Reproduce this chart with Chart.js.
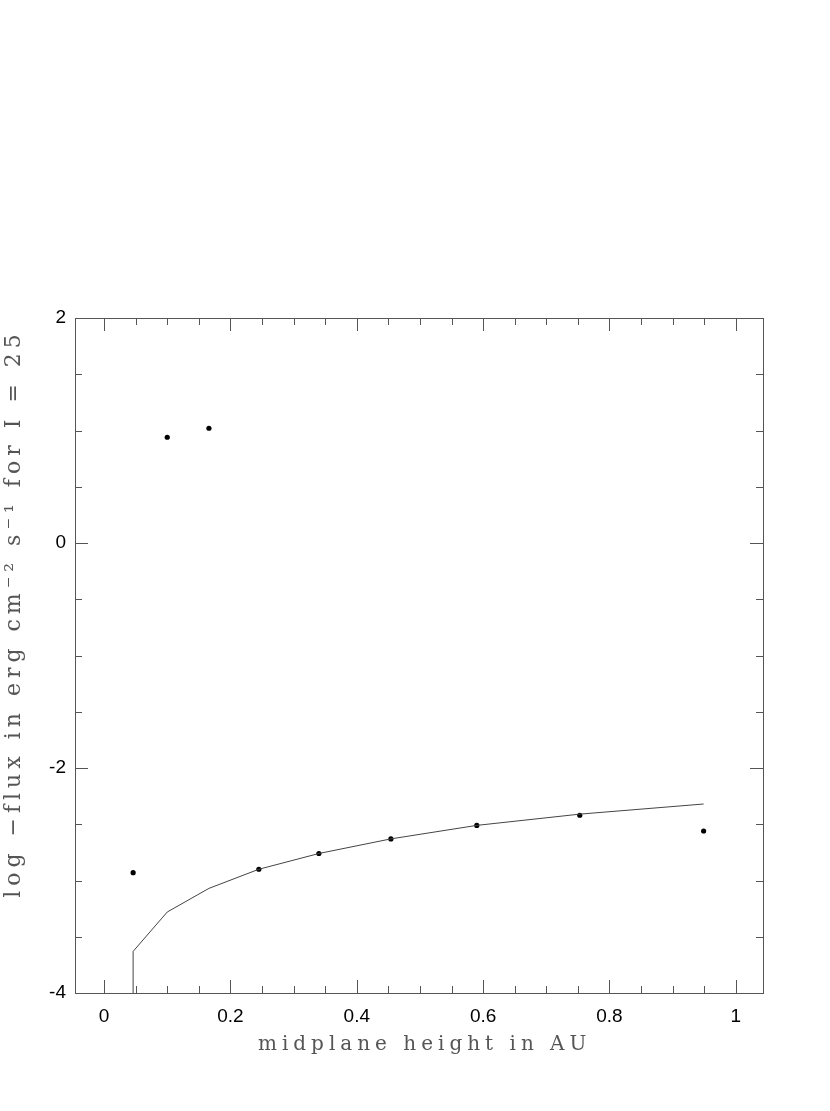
<!DOCTYPE html>
<html>
<head>
<meta charset="utf-8">
<script src="https://cdn.jsdelivr.net/npm/chart.js@4.4.0/dist/chart.umd.min.js"></script>
<style>
  html, body { margin: 0; padding: 0; background: #fff; }
  #wrap { width: 830px; height: 1111px; position: relative; }
</style>
</head>
<body>
<div id="wrap"><canvas id="myChart"></canvas></div>
<script>
// measured points (dots)
const pointX = [0.046, 0.100, 0.166, 0.245, 0.340, 0.454, 0.590, 0.753, 0.949]
const pointY = [-2.93, 0.94, 1.02, -2.90, -2.76, -2.63, -2.51, -2.42, -2.56]

// model curve
const lineX = [0.046, 0.046, 0.100, 0.166, 0.245, 0.340, 0.454, 0.590, 0.753, 0.949]
const lineY = [-4.0, -3.63, -3.28, -3.07, -2.90, -2.76, -2.63, -2.51, -2.41, -2.32]

const xTicks = [0, 0.2, 0.4, 0.6, 0.8, 1]
const yTicks = [-4, -2, 0, 2]
const xMinor = 0.05
const yMinor = 0.5

// leading spaces nudge the titles off-centre, like the original
const xTitle = ' midplane height in AU'
const yTitle = '       log \u2212flux in erg cm\u207B\u00B2 s\u207B\u00B9 for I = 25'

const axisColor = '#555'

// wide letter spacing for the axis titles only (titles draw before datasets,
// tick labels are moved to z=1 so they draw after)
const titleSpacing = {
  id: 'titleSpacing',
  beforeDraw(chart) { chart.ctx.letterSpacing = '5px' },
  beforeDatasetsDraw(chart) { chart.ctx.letterSpacing = '0px' }
}

// frame + inward ticks on all four sides
const frameTicks = {
  id: 'frameTicks',
  afterDraw(chart) {
    const c = chart.ctx, a = chart.chartArea
    const xs = chart.scales.x, ys = chart.scales.y
    c.save()
    c.strokeStyle = axisColor
    c.lineWidth = 1
    c.strokeRect(a.left + 0.5, a.top + 0.5, a.right - a.left, a.bottom - a.top)
    c.beginPath()
    for (let v = Math.ceil(xs.min / xMinor) * xMinor; v <= xs.max + 1e-9; v += xMinor) {
      const px = Math.round(xs.getPixelForValue(v)) + 0.5
      const major = Math.abs(v / 0.2 - Math.round(v / 0.2)) < 1e-6
      const len = major ? 13 : 7
      c.moveTo(px, a.bottom); c.lineTo(px, a.bottom - len)
      c.moveTo(px, a.top); c.lineTo(px, a.top + len)
    }
    for (let v = Math.ceil(ys.min / yMinor) * yMinor; v <= ys.max + 1e-9; v += yMinor) {
      const py = Math.round(ys.getPixelForValue(v)) + 0.5
      const major = Math.abs(v / 2 - Math.round(v / 2)) < 1e-6
      const len = major ? 13 : 7
      c.moveTo(a.left, py); c.lineTo(a.left + len, py)
      c.moveTo(a.right, py); c.lineTo(a.right - len, py)
    }
    c.stroke()
    c.restore()
  }
}

const ctx = document.getElementById('myChart')

var grafico = new Chart(ctx, {
  type: 'scatter',
  data: {
    datasets: [{
      label: 'curve',
      type: 'line',
      data: lineX.map((x, i) => ({ x: x, y: lineY[i] })),
      borderColor: '#444',
      borderWidth: 1,
      pointRadius: 0,
      tension: 0,
      fill: false
    }, {
      label: 'points',
      data: pointX.map((x, i) => ({ x: x, y: pointY[i] })),
      backgroundColor: '#000',
      borderColor: '#000',
      pointRadius: 2.6,
      borderWidth: 0
    }]
  },
  plugins: [titleSpacing, frameTicks],
  options: {
    responsive: true,
    maintainAspectRatio: false,
    animation: false,
    layout: { padding: { left: 0, top: 318, right: 67, bottom: 0 } },
    plugins: { legend: { display: false }, tooltip: { enabled: false } },
    scales: {
      x: {
        type: 'linear',
        min: -0.046,
        max: 1.043,
        afterBuildTicks: s => { s.ticks = xTicks.map(v => ({ value: v })) },
        afterFit: s => { s.height = 118 },
        grid: { display: false, drawTicks: false, z: -1 },
        border: { display: false },
        ticks: {
          z: 1,
          color: '#000',
          padding: 12,
          font: { family: 'Liberation Sans', size: 19 },
          callback: v => String(Math.round(v * 10) / 10)
        },
        title: {
          display: true,
          text: xTitle,
          color: '#555',
          padding: { top: 0, bottom: 54 },
          font: { family: 'DejaVu Serif', size: 20 }
        }
      },
      y: {
        type: 'linear',
        min: -4,
        max: 2,
        afterBuildTicks: s => { s.ticks = yTicks.map(v => ({ value: v })) },
        afterFit: s => { s.width = 75 },
        grid: { display: false, drawTicks: false, z: -1 },
        border: { display: false },
        ticks: {
          z: 1,
          color: '#000',
          padding: 9,
          font: { family: 'Liberation Sans', size: 19 },
          callback: v => String(v)
        },
        title: {
          display: true,
          text: yTitle,
          color: '#555',
          padding: { top: 1, bottom: 0 },
          font: { family: 'DejaVu Serif', size: 22 }
        }
      }
    }
  }
})
</script>
</body>
</html>
